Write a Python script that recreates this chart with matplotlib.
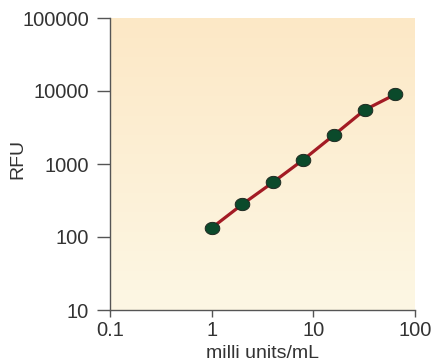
import numpy as np
import matplotlib
matplotlib.use("Agg")
import matplotlib.pyplot as plt
from matplotlib.colors import LinearSegmentedColormap
from matplotlib.path import Path

# enzyme standard curve
conc = [1, 2, 4, 8, 16, 32, 64]
rfu = [133, 280, 560, 1150, 2500, 5500, 9000]
x_ticks = [0.1, 1, 10, 100]
x_tick_labels = ["0.1", "1", "10", "100"]
y_ticks = [10, 100, 1000, 10000, 100000]
y_tick_labels = ["10", "100", "1000", "10000", "100000"]

plt.rcParams["font.family"] = ["Liberation Sans", "DejaVu Sans"]
text_color = "#333333"
axis_color = "#555555"

fig = plt.figure(figsize=(4.37, 3.64), dpi=100)
ax = fig.add_axes([110 / 437, 1 - 310 / 364, 305 / 437, 292 / 364])

ax.set_xscale("log")
ax.set_yscale("log")
ax.set_xlim(0.1, 100)
ax.set_ylim(10, 100000)

# peach-to-cream vertical gradient behind the plot
grad = LinearSegmentedColormap.from_list("bg", ["#fdf7e4", "#fce8c6"])
ax.imshow(np.linspace(0, 1, 256).reshape(-1, 1), cmap=grad, aspect="auto",
          origin="lower", extent=[0, 1, 0, 1], transform=ax.transAxes, zorder=0)
ax.set_facecolor("none")

# slightly flattened dot marker
t = np.linspace(0, 2 * np.pi, 60)
ellipse = Path(np.column_stack([np.cos(t), 0.84 * np.sin(t)]), closed=True)

ax.plot(conc, rfu, color="#a31b24", lw=2.3, solid_capstyle="round", zorder=3)
ax.plot(conc, rfu, ls="none", marker=ellipse, ms=10.5, mfc="#0b4a2b",
        mec="#1f2a22", mew=0.7, zorder=4)

ax.set_xticks(x_ticks)
ax.set_xticklabels(x_tick_labels)
ax.set_yticks(y_ticks)
ax.set_yticklabels(y_tick_labels)
ax.minorticks_off()
ax.tick_params(axis="x", length=5, width=1.0, color=axis_color,
               labelsize=14.5, labelcolor=text_color, pad=3)
ax.tick_params(axis="y", length=9.5, width=1.0, color=axis_color,
               labelsize=14.5, labelcolor=text_color, pad=5.5)

for side in ["top", "right"]:
    ax.spines[side].set_visible(False)
for side in ["left", "bottom"]:
    ax.spines[side].set_color(axis_color)
    ax.spines[side].set_linewidth(1.0)

fig.text(263 / 437, 1 - 354 / 364, "milli units/mL", fontsize=14,
         color=text_color, ha="center", va="center")
fig.text(18 / 437, 1 - 159 / 364, "RFU", fontsize=14, color=text_color,
         rotation=90, ha="center", va="center")

fig.savefig("out.png", dpi=100)
